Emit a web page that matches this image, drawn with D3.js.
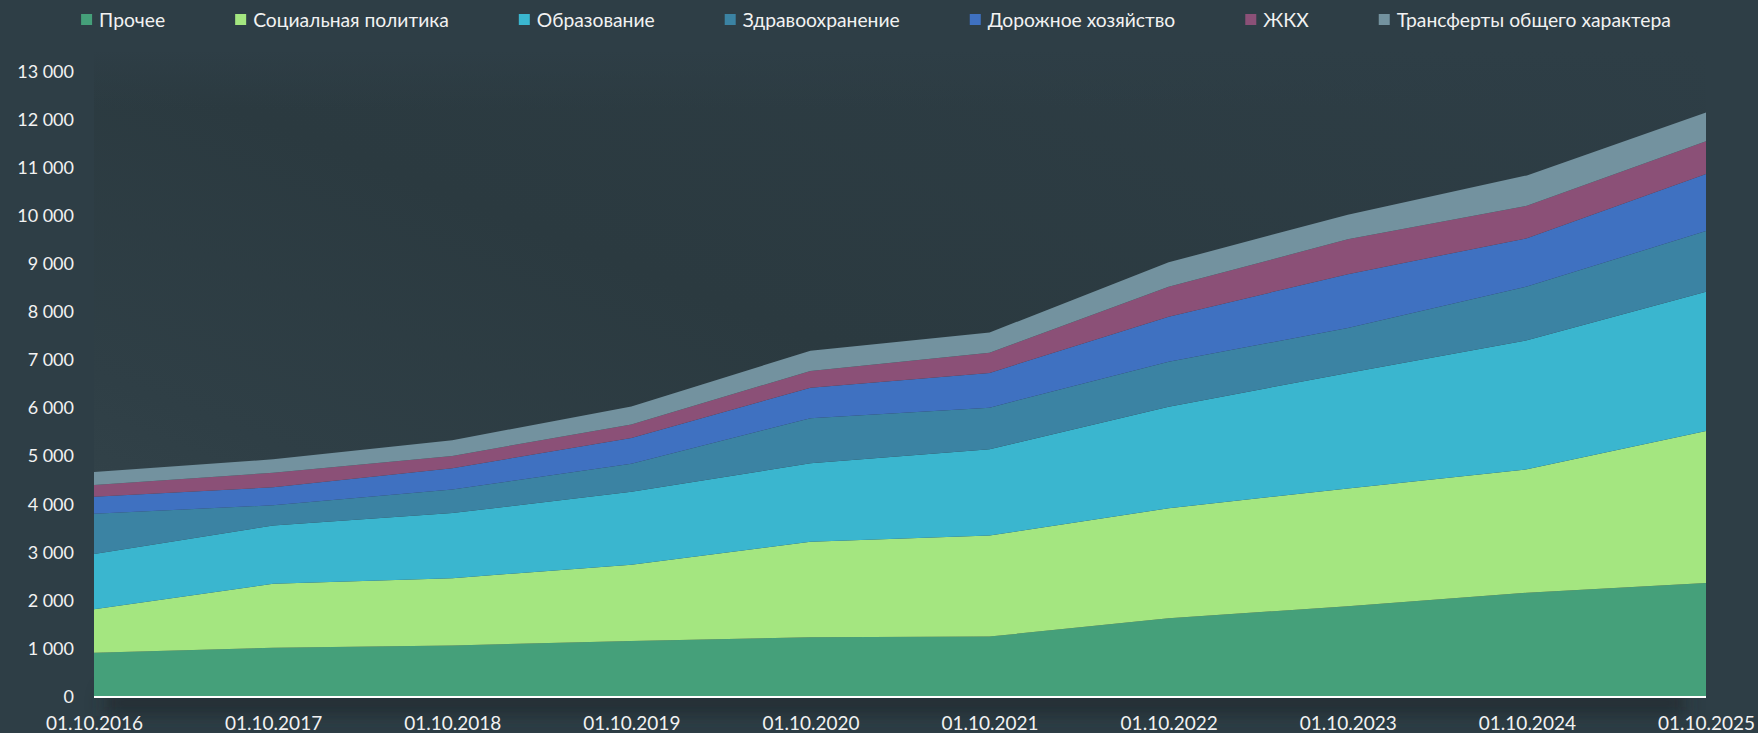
<!DOCTYPE html>
<html><head><meta charset="utf-8">
<script src="https://cdn.jsdelivr.net/npm/d3@7"></script>
<style>
html,body{margin:0;padding:0;background:#2e3e46;}
svg{display:block;}
text{font-family:Lato,"Open Sans","Liberation Sans",sans-serif;fill:#f2f2f2;}
</style></head>
<body>
<svg id="chart" width="1758" height="733"></svg>
<script>
const dates = ["01.10.2016","01.10.2017","01.10.2018","01.10.2019","01.10.2020","01.10.2021","01.10.2022","01.10.2023","01.10.2024","01.10.2025"];
const seriesNames = ["Прочее","Социальная политика","Образование","Здравоохранение","Дорожное хозяйство","ЖКХ","Трансферты общего характера"];
const colors = ["#45a07a","#a4e680","#3ab6cf","#3b83a3","#3f71c1","#8b5077","#73929f"];
const prochee    = [900,1003,1050,1144,1221,1237,1616,1867,2147,2353];
const social     = [903,1331,1400,1586,1988,2100,2288,2450,2567,3157];
const education  = [1150,1213,1354,1517,1631,1797,2113,2404,2684,2897];
const health     = [839,420,490,584,936,864,936,934,1120,1263];
const roads      = [353,374,443,537,636,723,936,1120,1004,1189];
const housing    = [244,303,257,280,348,420,624,723,676,682];
const transfers  = [270,280,327,373,422,420,507,514,631,595];
const yTicks = [0,1000,2000,3000,4000,5000,6000,7000,8000,9000,10000,11000,12000,13000];

const seriesValues = [prochee,social,education,health,roads,housing,transfers];
const rows = dates.map((d,i)=>{const r={date:d};seriesNames.forEach((n,k)=>r[n]=seriesValues[k][i]);return r;});

const svg = d3.select("#chart");
const W=1758,H=733;
const pL=94,pR=1706,pT=71,pB=696;
const x = d3.scalePoint().domain(dates).range([pL,pR]);
const y = d3.scaleLinear().domain([0,13000]).range([pB,pT]);

const defs = svg.append("defs");
const g1 = defs.append("linearGradient").attr("id","pbg").attr("x1","0").attr("y1","1").attr("x2","1").attr("y2","0");
g1.append("stop").attr("offset","0").attr("stop-color","#37474e");
g1.append("stop").attr("offset","0.25").attr("stop-color","#2f3f46");
g1.append("stop").attr("offset","0.5").attr("stop-color","#2b3a40");
g1.append("stop").attr("offset","1").attr("stop-color","#2e3e46");
const gv = defs.append("linearGradient").attr("id","fadeTop").attr("x1","0").attr("y1","0").attr("x2","0").attr("y2","1");
gv.append("stop").attr("offset","0").attr("stop-color","#2e3e46").attr("stop-opacity",1);
gv.append("stop").attr("offset","1").attr("stop-color","#2e3e46").attr("stop-opacity",0);
const f = defs.append("filter").attr("id","blur").attr("x","-10%").attr("y","-100%").attr("width","120%").attr("height","300%");
f.append("feGaussianBlur").attr("stdDeviation",9);

svg.append("rect").attr("width",W).attr("height",H).attr("fill","#2e3e46");
// bottom shadow
svg.append("rect").attr("x",pL+10).attr("y",pB-6).attr("width",pR-pL-30).attr("height",26)
  .attr("fill","#1c262b").attr("opacity",0.6).attr("filter","url(#blur)");
svg.append("rect").attr("x",pL).attr("y",pT-20).attr("width",pR-pL).attr("height",pB-pT+20)
  .attr("fill","url(#pbg)");
svg.append("rect").attr("x",pL-2).attr("y",pT-22).attr("width",pR-pL+4).attr("height",60)
  .attr("fill","url(#fadeTop)");

const stack = d3.stack().keys(seriesNames);
const layers = stack(rows);
const area = d3.area().x(d=>x(d.data.date)).y0(d=>y(d[0])).y1(d=>y(d[1]));
svg.append("g").selectAll("path").data(layers).join("path")
  .attr("d",area).attr("fill",(d,i)=>colors[i]);

svg.append("line").attr("x1",pL).attr("x2",pR).attr("y1",pB+1).attr("y2",pB+1)
  .attr("stroke","#ffffff").attr("stroke-width",2);

const fmt = d3.formatLocale({decimal:",",thousands:" ",grouping:[3],currency:["",""]}).format(",d");
const yAxis = d3.axisLeft(y).tickValues(yTicks).tickFormat(fmt).tickSize(0).tickPadding(0);
const ya = svg.append("g").attr("transform",`translate(74,0)`).call(yAxis);
ya.select(".domain").remove();
ya.selectAll("text").attr("font-size",18).attr("font-family",null).attr("fill","#f2f2f2").attr("dy","0.35em");

const xAxis = d3.axisBottom(x).tickSize(0).tickPadding(0);
const xa = svg.append("g").attr("transform",`translate(0,723)`).call(xAxis);
xa.select(".domain").remove();
xa.selectAll("text").attr("font-size",19).attr("font-family",null).attr("fill","#f2f2f2").attr("dy","0.35em");

// legend
const lg = svg.append("g");
const items = lg.selectAll("g").data(seriesNames).join("g");
items.append("rect").attr("width",11).attr("height",11).attr("y",-6).attr("fill",(d,i)=>colors[i]);
items.append("text").attr("x",18).attr("dy","0.35em").attr("font-size",19.3).text(d=>d);
let pos=0; const xs=[];
items.each(function(){const t=d3.select(this).select("text").node().getComputedTextLength();xs.push(pos);pos+=18+t+70;});
const total=pos-70;
const startX = 876 - total/2;
items.attr("transform",(d,i)=>`translate(${startX+xs[i]},20)`);
</script>
</body></html>
